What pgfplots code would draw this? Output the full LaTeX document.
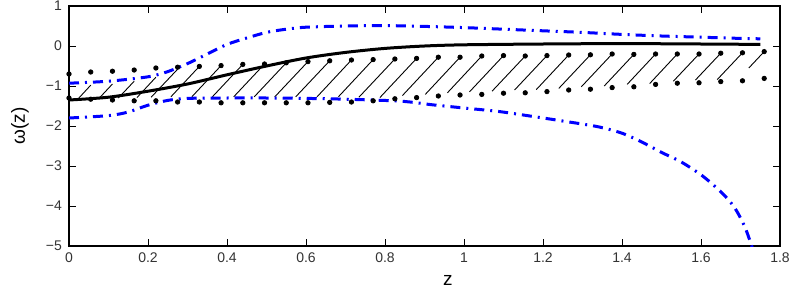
\documentclass[border=0pt]{standalone}
\usepackage{fontspec}
\setmainfont{Liberation Sans}
\usepackage{pgfplots}
\pgfplotsset{compat=1.18}

% upper / lower dotted bounds
\pgfplotstableread{
z     up     lo
0.000 -0.70 -1.30
0.055 -0.65 -1.33
0.110 -0.63 -1.35
0.165 -0.60 -1.37
0.220 -0.55 -1.37
0.275 -0.53 -1.40
0.330 -0.51 -1.40
0.385 -0.49 -1.42
0.440 -0.46 -1.42
0.495 -0.45 -1.42
0.550 -0.42 -1.42
0.605 -0.39 -1.42
0.660 -0.37 -1.41
0.715 -0.35 -1.40
0.770 -0.34 -1.37
0.825 -0.325 -1.32
0.880 -0.31 -1.29
0.935 -0.28 -1.25
0.990 -0.28 -1.225
1.045 -0.25 -1.21
1.100 -0.24 -1.18
1.155 -0.25 -1.17
1.210 -0.24 -1.14
1.265 -0.225 -1.10
1.320 -0.22 -1.08
1.375 -0.20 -1.04
1.430 -0.21 -1.02
1.485 -0.20 -0.96
1.540 -0.20 -0.93
1.595 -0.20 -0.92
1.650 -0.18 -0.89
1.705 -0.17 -0.87
1.760 -0.14 -0.81
}\dots

% hatch strokes: start point and offset
\pgfplotstableread{
x     y      u     v
0.025 -1.30  0.030 0.32
0.076 -1.31  0.034 0.36
0.125 -1.30  0.040 0.42
0.172 -1.29  0.048 0.51
0.208 -1.28  0.067 0.70
0.258 -1.27  0.072 0.76
0.311 -1.27  0.074 0.78
0.363 -1.27  0.077 0.81
0.417 -1.27  0.078 0.82
0.469 -1.27  0.081 0.85
0.521 -1.27  0.084 0.88
0.574 -1.27  0.086 0.90
0.628 -1.27  0.087 0.92
0.682 -1.27  0.088 0.93
0.734 -1.28  0.091 0.955
0.787 -1.29  0.093 0.98
0.844 -1.24  0.091 0.96
0.902 -1.21  0.088 0.93
0.958 -1.17  0.087 0.92
1.014 -1.145 0.086 0.905
1.071 -1.13  0.084 0.88
1.128 -1.10  0.082 0.86
1.183 -1.09  0.082 0.865
1.240 -1.06  0.080 0.84
1.297 -1.02  0.078 0.82
1.355 -1.00  0.075 0.79
1.413 -0.96  0.072 0.76
1.470 -0.94  0.070 0.74
1.530 -0.88  0.065 0.68
1.586 -0.85  0.064 0.67
1.641 -0.84  0.064 0.67
1.721 -0.55  0.039 0.41
}\hatch

\begin{document}
\begin{tikzpicture}
\begin{axis}[
    name=ax,
    scale only axis,
    width=355.5pt, height=120pt,
    xmin=0, xmax=1.8, ymin=-5, ymax=1,
    xtick={0,0.2,...,1.8},
    xticklabels={0,0.2,0.4,0.6,0.8,1,1.2,1.4,1.6,1.8},
    ytick={-5,...,1},
    yticklabels={−5,−4,−3,−2,−1,0,1},
    tick align=inside,
    major tick length=3.5pt,
    tick style={black, line width=0.5pt},
    axis line style={line width=0.6pt},
    ticklabel style={font=\fontsize{7}{8}\selectfont, text=black!80},
    xlabel={z},
    ylabel={ω(z)},
    label style={font=\fontsize{9.5}{10}\selectfont},
    xlabel style={at={(axis description cs:0.533,0)}, anchor=center, yshift=-17pt},
    ylabel style={at={(axis description cs:-0.069,0.5)}, anchor=center},
]

% hatching
\addplot[black, line width=0.45pt, quiver={u=\thisrow{u}, v=\thisrow{v}}]
    table[x=x, y=y] {\hatch};

\addplot[only marks, mark=*, mark size=1.1pt, black] table[x=z, y=up] {\dots};
\addplot[only marks, mark=*, mark size=1.1pt, black] table[x=z, y=lo] {\dots};

% upper band
\addplot[blue, line width=1.5pt, smooth,
    dash pattern=on 5pt off 3pt on 1pt off 3pt] coordinates {
    (0,-0.93) (0.1,-0.88) (0.2,-0.77) (0.25,-0.64) (0.3,-0.44)
    (0.35,-0.2) (0.4,0.04) (0.45,0.2) (0.5,0.34) (0.55,0.42)
    (0.6,0.47) (0.7,0.5) (0.8,0.51) (0.9,0.49) (1.0,0.46)
    (1.1,0.42) (1.2,0.38) (1.3,0.34) (1.4,0.29) (1.5,0.25)
    (1.6,0.22) (1.7,0.19) (1.75,0.18)
};

% lower band
\addplot[blue, line width=1.5pt, smooth,
    dash pattern=on 5pt off 3pt on 1pt off 3pt] coordinates {
    (0,-1.8) (0.1,-1.74) (0.15,-1.65) (0.2,-1.48) (0.25,-1.36)
    (0.3,-1.31) (0.4,-1.3) (0.5,-1.3) (0.6,-1.31) (0.7,-1.33)
    (0.84,-1.38) (0.92,-1.47) (1.0,-1.55) (1.09,-1.64) (1.18,-1.77)
    (1.26,-1.89) (1.34,-2.02) (1.40,-2.18) (1.45,-2.4) (1.50,-2.66)
    (1.55,-2.9) (1.60,-3.22) (1.64,-3.55) (1.67,-3.85) (1.69,-4.12)
    (1.71,-4.5) (1.725,-4.9) (1.74,-5.35)
};

% mean
\addplot[black, line width=1.5pt, smooth] coordinates {
    (0,-1.35) (0.1,-1.28) (0.2,-1.13) (0.3,-0.95) (0.4,-0.72)
    (0.5,-0.5) (0.6,-0.3) (0.7,-0.16) (0.8,-0.06) (0.9,0.0)
    (1.0,0.03) (1.2,0.05) (1.4,0.06) (1.6,0.05) (1.75,0.04)
};
\end{axis}
\pgfresetboundingbox
\path[use as bounding box] ([shift={(-34.5pt,-24.5pt)}]ax.south west)
    rectangle ([shift={(7.5pt,3pt)}]ax.north east);
\end{tikzpicture}
\end{document}
